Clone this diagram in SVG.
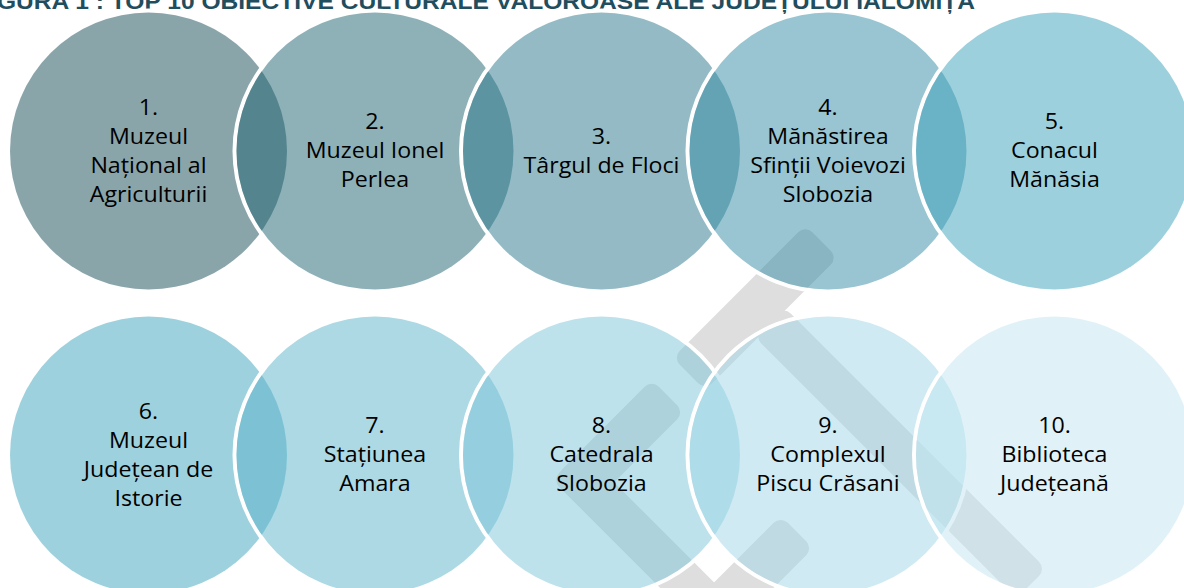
<svg xmlns="http://www.w3.org/2000/svg" width="1184" height="588" viewBox="0 0 1184 588">
<style>
.ring{fill:none;stroke:#fff;stroke-width:4}
.c{fill-opacity:0.5}
.lbl{font-family:"Open Sans","Liberation Sans",sans-serif;font-size:21.5px;fill:#000;text-anchor:middle}
.title{font-family:"Liberation Sans",sans-serif;font-weight:bold;font-size:22px;fill:#1F4E5F}
</style>
<rect width="1184" height="588" fill="#fff"/>
<text class="title" x="-3" y="9" textLength="978" lengthAdjust="spacingAndGlyphs">GURA 1 : TOP 10 OBIECTIVE CULTURALE VALOROASE ALE JUDEȚULUI IALOMIȚA</text>
<g id="watermark" fill="#DEDEDE">
<rect x="-93.7" y="-23" width="187.4" height="46" rx="10" transform="translate(755.25 307.75) rotate(-45)"/>
<rect x="-185.6" y="-21" width="371.2" height="42" rx="10" transform="translate(900 452.5) rotate(45)"/>
<rect x="-67.9" y="-23" width="135.8" height="46" rx="10" transform="translate(620 444) rotate(-45)"/>
<rect x="-137.2" y="-21" width="274.4" height="42" rx="10" transform="translate(664 562) rotate(45)"/>
<rect x="-65.4" y="-23" width="130.8" height="46" rx="10" transform="translate(750.75 578.25) rotate(-45)"/>
</g>
<g id="connectors"></g>
<g id="n1"><circle class="ring" cx="148.5" cy="151" r="140.5"/><circle class="c" cx="148.5" cy="151" r="138.5" fill="#154B55"/>
<text class="lbl" transform="translate(148.5 0) scale(1.08 1)"><tspan x="0" y="115">1.</tspan><tspan x="0" y="144">Muzeul</tspan><tspan x="0" y="173">Național al</tspan><tspan x="0" y="202">Agriculturii</tspan></text></g>
<g id="n2"><circle class="ring" cx="375" cy="151" r="140.5"/><circle class="c" cx="375" cy="151" r="138.5" fill="#1D6371"/>
<text class="lbl" transform="translate(375 0) scale(1.08 1)"><tspan x="0" y="129">2.</tspan><tspan x="0" y="158">Muzeul Ionel</tspan><tspan x="0" y="187">Perlea</tspan></text></g>
<g id="n3"><circle class="ring" cx="601.5" cy="151" r="140.5"/><circle class="c" cx="601.5" cy="151" r="138.5" fill="#29778B"/>
<text class="lbl" transform="translate(601.5 0) scale(1.08 1)"><tspan x="0" y="144">3.</tspan><tspan x="0" y="173">Târgul de Floci</tspan></text></g>
<g id="n4"><circle class="ring" cx="828" cy="151" r="140.5"/><circle class="c" cx="828" cy="151" r="138.5" fill="#318BA3"/>
<text class="lbl" transform="translate(828 0) scale(1.08 1)"><tspan x="0" y="115">4.</tspan><tspan x="0" y="144">Mănăstirea</tspan><tspan x="0" y="173">Sfinții Voievozi</tspan><tspan x="0" y="202">Slobozia</tspan></text></g>
<g id="n5"><circle class="ring" cx="1054.5" cy="151" r="140.5"/><circle class="c" cx="1054.5" cy="151" r="138.5" fill="#3BA1BB"/>
<text class="lbl" transform="translate(1054.5 0) scale(1.08 1)"><tspan x="0" y="129">5.</tspan><tspan x="0" y="158">Conacul</tspan><tspan x="0" y="187">Mănăsia</tspan></text></g>
<g id="n6"><circle class="ring" cx="148.5" cy="455" r="140.5"/><circle class="c" cx="148.5" cy="455" r="138.5" fill="#3DA3BD"/>
<text class="lbl" transform="translate(148.5 0) scale(1.08 1)"><tspan x="0" y="419">6.</tspan><tspan x="0" y="448">Muzeul</tspan><tspan x="0" y="477">Județean de</tspan><tspan x="0" y="506">Istorie</tspan></text></g>
<g id="n7"><circle class="ring" cx="375" cy="455" r="140.5"/><circle class="c" cx="375" cy="455" r="138.5" fill="#59B3C9"/>
<text class="lbl" transform="translate(375 0) scale(1.08 1)"><tspan x="0" y="433">7.</tspan><tspan x="0" y="462">Stațiunea</tspan><tspan x="0" y="491">Amara</tspan></text></g>
<g id="n8"><circle class="ring" cx="601.5" cy="455" r="140.5"/><circle class="c" cx="601.5" cy="455" r="138.5" fill="#7DC5D9"/>
<text class="lbl" transform="translate(601.5 0) scale(1.08 1)"><tspan x="0" y="433">8.</tspan><tspan x="0" y="462">Catedrala</tspan><tspan x="0" y="491">Slobozia</tspan></text></g>
<g id="n9"><circle class="ring" cx="828" cy="455" r="140.5"/><circle class="c" cx="828" cy="455" r="138.5" fill="#9FD5E5"/>
<text class="lbl" transform="translate(828 0) scale(1.08 1)"><tspan x="0" y="433">9.</tspan><tspan x="0" y="462">Complexul</tspan><tspan x="0" y="491">Piscu Crăsani</tspan></text></g>
<g id="n10"><circle class="ring" cx="1054.5" cy="455" r="140.5"/><circle class="c" cx="1054.5" cy="455" r="138.5" fill="#C1E5F1"/>
<text class="lbl" transform="translate(1054.5 0) scale(1.08 1)"><tspan x="0" y="433">10.</tspan><tspan x="0" y="462">Biblioteca</tspan><tspan x="0" y="491">Județeană</tspan></text></g>
</svg>
